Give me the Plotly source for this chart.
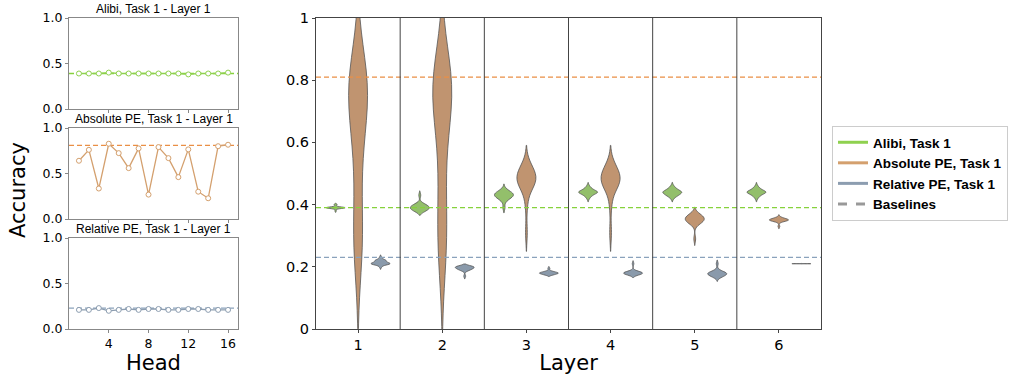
import numpy as np
import plotly.graph_objects as go

# ---------------- data ----------------
heads = list(range(1, 17))
layers = [1, 2, 3, 4, 5, 6]
models = ["Alibi, Task 1", "Absolute PE, Task 1", "Relative PE, Task 1"]

baseline_alibi = 0.39
baseline_abs = 0.81
baseline_rel = 0.23

alibi_l1 = [0.39, 0.39, 0.39, 0.40, 0.39, 0.39, 0.39, 0.39, 0.39, 0.39, 0.39, 0.38, 0.39, 0.39, 0.39, 0.40]
alibi_l2 = [0.39, 0.38, 0.40, 0.39, 0.38, 0.39, 0.40, 0.39, 0.43, 0.39, 0.38, 0.40, 0.39, 0.39, 0.38, 0.40]
alibi_l3 = [0.43, 0.44, 0.42, 0.43, 0.45, 0.41, 0.43, 0.44, 0.42, 0.43, 0.39, 0.44, 0.43, 0.42, 0.44, 0.43]
alibi_l4 = [0.44, 0.43, 0.45, 0.44, 0.44, 0.42, 0.45, 0.44, 0.43, 0.44, 0.46, 0.44, 0.43, 0.45, 0.44, 0.44]
alibi_l5 = [0.44, 0.43, 0.45, 0.44, 0.43, 0.42, 0.45, 0.44, 0.44, 0.44, 0.46, 0.44, 0.43, 0.45, 0.44, 0.43]
alibi_l6 = [0.44, 0.44, 0.45, 0.43, 0.44, 0.42, 0.45, 0.44, 0.43, 0.44, 0.46, 0.44, 0.44, 0.45, 0.43, 0.44]

abs_l1 = [0.64, 0.76, 0.335, 0.827, 0.724, 0.559, 0.776, 0.268, 0.79, 0.669, 0.46, 0.765, 0.30, 0.228, 0.80, 0.816]
abs_l2 = [0.70, 0.78, 0.35, 0.82, 0.74, 0.52, 0.77, 0.25, 0.80, 0.66, 0.45, 0.76, 0.31, 0.22, 0.79, 0.81]
abs_l3 = [0.48, 0.50, 0.46, 0.52, 0.47, 0.49, 0.31, 0.51, 0.45, 0.48, 0.53, 0.47, 0.49, 0.40, 0.50, 0.48]
abs_l4 = [0.49, 0.50, 0.46, 0.52, 0.47, 0.48, 0.31, 0.51, 0.45, 0.48, 0.53, 0.47, 0.49, 0.40, 0.50, 0.47]
abs_l5 = [0.35, 0.36, 0.34, 0.37, 0.35, 0.36, 0.29, 0.35, 0.36, 0.34, 0.37, 0.35, 0.36, 0.35, 0.34, 0.36]
abs_l6 = [0.35, 0.355, 0.35, 0.345, 0.355, 0.35, 0.33, 0.35, 0.36, 0.35, 0.345, 0.355, 0.35, 0.35, 0.355, 0.35]

rel_l1 = [0.21, 0.21, 0.23, 0.20, 0.21, 0.22, 0.21, 0.22, 0.22, 0.21, 0.21, 0.22, 0.22, 0.21, 0.21, 0.21]
rel_l2 = [0.20, 0.19, 0.20, 0.195, 0.20, 0.19, 0.17, 0.20, 0.195, 0.20, 0.19, 0.20, 0.195, 0.20, 0.19, 0.20]
rel_l3 = [0.18, 0.175, 0.18, 0.185, 0.18, 0.175, 0.18, 0.195, 0.18, 0.185, 0.175, 0.18, 0.18, 0.185, 0.175, 0.18]
rel_l4 = [0.18, 0.175, 0.18, 0.185, 0.18, 0.175, 0.18, 0.21, 0.18, 0.185, 0.175, 0.18, 0.18, 0.185, 0.175, 0.18]
rel_l5 = [0.18, 0.17, 0.18, 0.175, 0.185, 0.17, 0.18, 0.21, 0.175, 0.18, 0.165, 0.18, 0.19, 0.175, 0.18, 0.17]
rel_l6 = [0.21, 0.2105, 0.21, 0.2095, 0.21, 0.2102, 0.2098, 0.21, 0.2101, 0.21, 0.2099, 0.21, 0.2103, 0.2097, 0.21, 0.21]

alibi_layers = [alibi_l1, alibi_l2, alibi_l3, alibi_l4, alibi_l5, alibi_l6]
abs_layers = [abs_l1, abs_l2, abs_l3, abs_l4, abs_l5, abs_l6]
rel_layers = [rel_l1, rel_l2, rel_l3, rel_l4, rel_l5, rel_l6]

# ---------------- styles ----------------
line_cols = ["#8fd14f", "#d4a06e", "#8c9db0"]
fill_cols = ["#93bf6b", "#c09470", "#8a9aab"]
base_cols = ["#86d23c", "#ea8f45", "#8aa2bc"]
offsets = [-0.267, 0.0, 0.267]
DASH = "5px,3px"
TICKFONT = dict(family="DejaVu Sans", size=14.5, color="black")
SMALLTICK = dict(family="DejaVu Sans", size=12.5, color="black")

fig = go.Figure()

# small plots (per-head, layer 1)
small_axes = [("x", "y"), ("x2", "y2"), ("x3", "y3")]
small_series = [alibi_l1, abs_l1, rel_l1]
small_base = [baseline_alibi, baseline_abs, baseline_rel]
for i, (xa, ya) in enumerate(small_axes):
    fig.add_trace(go.Scatter(
        x=[0, 17], y=[small_base[i], small_base[i]], xaxis=xa, yaxis=ya,
        mode="lines", line=dict(color=base_cols[i], width=1.3, dash=DASH),
        showlegend=False, hoverinfo="skip"))
    fig.add_trace(go.Scatter(
        x=heads, y=small_series[i], xaxis=xa, yaxis=ya, mode="lines+markers",
        line=dict(color=line_cols[i], width=1.3),
        marker=dict(symbol="circle", size=5, color="white",
                    line=dict(color=line_cols[i], width=1)),
        showlegend=False, hoverinfo="skip"))

# baselines in main plot (drawn beneath violins)
for i, b in enumerate(small_base):
    fig.add_trace(go.Scatter(
        x=[0.5, 6.5], y=[b, b], xaxis="x4", yaxis="y4", mode="lines",
        line=dict(color=base_cols[i], width=1.3, dash=DASH),
        showlegend=False, hoverinfo="skip"))

# violins
all_layers = [alibi_layers, abs_layers, rel_layers]
for m in range(3):
    for li, layer in enumerate(layers):
        vals = np.array(all_layers[m][li], dtype=float)
        bw = float(vals.std(ddof=1) * len(vals) ** (-1 / 5))
        fig.add_trace(go.Violin(
            x=[layer + offsets[m]] * len(vals), y=vals, xaxis="x4", yaxis="y4",
            bandwidth=bw, spanmode="soft", scalemode="width", width=0.225,
            fillcolor=fill_cols[m], line=dict(color="#555555", width=0.8),
            opacity=1, points=False, box_visible=False, meanline_visible=False,
            showlegend=False, hoverinfo="skip", name=models[m]))

# legend entries
for i, name in enumerate(models):
    fig.add_trace(go.Scatter(x=[None], y=[None], xaxis="x4", yaxis="y4", mode="lines",
                             line=dict(color=line_cols[i], width=3), name=name))
fig.add_trace(go.Scatter(x=[None], y=[None], xaxis="x4", yaxis="y4", mode="lines",
                         line=dict(color="#999999", width=3, dash="dash"), name="Baselines"))

# separators between layers
for s in [1.5, 2.5, 3.5, 4.5, 5.5]:
    fig.add_shape(type="line", xref="x4", yref="y4 domain", x0=s, x1=s, y0=0, y1=1,
                  line=dict(color="#444444", width=1), layer="above")

W, H = 1011, 381
def dx(a, b):
    return [a / W, b / W]
def dy(top, bot):
    return [1 - bot / H, 1 - top / H]

small_x = dx(69, 238)
small_y = [dy(18, 109), dy(128, 219), dy(238, 329)]
titles = ["Alibi, Task 1 - Layer 1", "Absolute PE, Task 1 - Layer 1", "Relative PE, Task 1 - Layer 1"]

frame = dict(showline=True, mirror=True, linecolor="#888888", linewidth=1,
             showgrid=False, zeroline=False, ticks="outside", ticklen=3,
             tickcolor="#888888", tickfont=SMALLTICK)

layout = dict(
    width=W, height=H, margin=dict(l=0, r=0, t=0, b=0, pad=0, autoexpand=False),
    paper_bgcolor="white", plot_bgcolor="white",
    showlegend=True,
    legend=dict(x=832 / W, y=1 - 126 / H, xanchor="left", yanchor="top",
                bgcolor="white", bordercolor="#cccccc", borderwidth=1,
                font=dict(family="Liberation Sans", size=13.5, color="black", weight="bold"),
                tracegroupgap=0, itemwidth=30),
)
for i in range(3):
    xk = "xaxis" if i == 0 else f"xaxis{i+1}"
    yk = "yaxis" if i == 0 else f"yaxis{i+1}"
    layout[xk] = dict(frame, domain=small_x, range=[0, 17], anchor="y" if i == 0 else f"y{i+1}",
                      tickvals=[4, 8, 12, 16], showticklabels=(i == 2))
    layout[yk] = dict(frame, domain=small_y[i], range=[0, 1], anchor="x" if i == 0 else f"x{i+1}",
                      tickvals=[0, 0.5, 1.0], ticktext=["0.0", "0.5", "1.0"])
layout["xaxis3"]["title"] = dict(text="Head", font=dict(family="DejaVu Sans", size=21, color="black"),
                                 standoff=4)

main_frame = dict(frame, linecolor="#444444", tickcolor="#444444", tickfont=TICKFONT)
layout["xaxis4"] = dict(main_frame, domain=dx(316, 821), range=[0.5, 6.5], anchor="y4",
                        tickvals=layers, ticktext=[str(l) for l in layers],
                        title=dict(text="Layer", font=dict(family="DejaVu Sans", size=21, color="black"),
                                   standoff=2))
layout["yaxis4"] = dict(main_frame, domain=dy(18, 329), range=[0, 1], anchor="x4",
                        tickvals=[0, 0.2, 0.4, 0.6, 0.8, 1.0],
                        ticktext=["0", "0.2", "0.4", "0.6", "0.8", "1"])
fig.update_layout(**layout)
fig.update_layout(violinmode="overlay", violingap=0, violingroupgap=0)

for i in range(3):
    top_px = [18, 128, 238][i]
    fig.add_annotation(text=titles[i], xref="paper", yref="paper",
                       x=(69 + 238) / 2 / W, y=1 - (top_px - 0) / H, xanchor="center", yanchor="bottom",
                       showarrow=False, font=dict(family="Liberation Sans", size=12, color="black"))
fig.add_annotation(text="Accuracy", xref="paper", yref="paper", x=18 / W, y=1 - 190 / H,
                   textangle=-90, showarrow=False, xanchor="center", yanchor="middle",
                   font=dict(family="DejaVu Sans", size=21, color="black"))

fig.write_html("out.html", config={"displayModeBar": False},
               post_script="document.body.style.margin='0px';document.body.style.padding='0px';")
